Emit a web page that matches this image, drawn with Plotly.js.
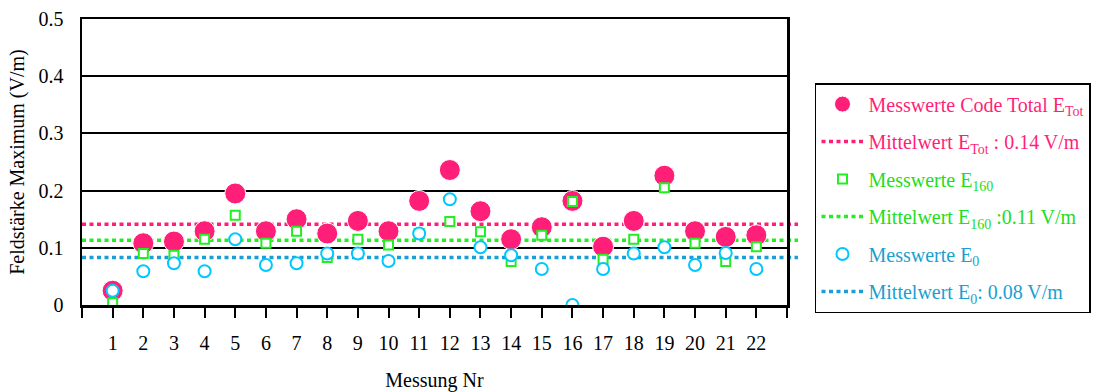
<!DOCTYPE html>
<html>
<head>
<meta charset="utf-8">
<script src="https://cdn.plot.ly/plotly-3.0.1.min.js"></script>
<style>html,body{margin:0;padding:0;background:#fff;}#chart{width:1101px;height:392px;}</style>
</head>
<body>
<div id="chart"></div>
<script>
// ---- data ----
const categories = [1,2,3,4,5,6,7,8,9,10,11,12,13,14,15,16,17,18,19,20,21,22];
const eTot = [0.025,0.108,0.111,0.129,0.195,0.129,0.150,0.125,0.147,0.129,0.182,0.236,0.164,0.115,0.136,0.182,0.102,0.147,0.226,0.129,0.119,0.122];
const e160 = [0.004,0.090,0.087,0.115,0.157,0.108,0.129,0.083,0.115,0.105,0.125,0.146,0.128,0.076,0.122,0.181,0.080,0.115,0.205,0.108,0.076,0.102];
const e0   = [0.025,0.059,0.073,0.059,0.115,0.070,0.073,0.090,0.090,0.077,0.125,0.185,0.101,0.087,0.063,0.000,0.063,0.090,0.101,0.070,0.091,0.063];
const meanTot = 0.141;
const mean160 = 0.113;
const mean0 = 0.083;
const xTickVals = [0,1,2,3,4,5,6,7,8,9,10,11,12,13,14,15,16,17,18,19,20,21,22,23];
const xTickText = [' ','1','2','3','4','5','6','7','8','9','10','11','12','13','14','15','16','17','18','19','20','21','22',' '];
const yTickVals = [0,0.1,0.2,0.3,0.4,0.5];
const yTickText = ['0','0.1','0.2','0.3','0.4','0.5'];

const PINK = '#ff1f78', GREEN = '#22ee22', GREEN_T = '#22dd22', CYAN = '#00c8ff', BLUE = '#1a9fd5', BLUE_T = '#1a9fd0';
const FONT = 'Times New Roman, Liberation Serif, serif';
const FS = 20;

function lbl(txt, col){ return '<span style="color:' + col + '">' + txt + '</span>'; }

const traces = [
  {x: categories, y: eTot, type: 'scatter', mode: 'markers', legendrank: 1, legendgroup: 'a',
   name: lbl('Messwerte Code Total E<sub>Tot</sub>', PINK),
   marker: {symbol: 'circle', size: 21, color: PINK, line: {color: '#ffffff', width: 1}}},
  {x: categories, y: e160, type: 'scatter', mode: 'markers', legendrank: 3, legendgroup: 'c',
   name: lbl('Messwerte E<sub>160</sub>', GREEN_T),
   marker: {symbol: 'square', size: 9, color: '#ffffff', line: {color: GREEN, width: 2}}},
  {x: categories, y: e0, type: 'scatter', mode: 'markers', legendrank: 5, legendgroup: 'e',
   name: lbl('Messwerte E<sub>0</sub>', BLUE_T),
   marker: {symbol: 'circle', size: 12, color: '#ffffff', line: {color: CYAN, width: 2}}},
  {x: [null], y: [null], type: 'scatter', mode: 'lines', legendrank: 2, legendgroup: 'b',
   name: lbl('Mittelwert E<sub>Tot</sub> : ' + meanTot.toFixed(2) + ' V/m', PINK),
   line: {color: PINK, width: 3.5, dash: '4px,3.5px'}},
  {x: [null], y: [null], type: 'scatter', mode: 'lines', legendrank: 4, legendgroup: 'd',
   name: lbl('Mittelwert E<sub>160</sub> :' + mean160.toFixed(2) + ' V/m', GREEN_T),
   line: {color: GREEN, width: 3.5, dash: '4px,3.5px'}},
  {x: [null], y: [null], type: 'scatter', mode: 'lines', legendrank: 6, legendgroup: 'f',
   name: lbl('Mittelwert E<sub>0</sub>: ' + mean0.toFixed(2) + ' V/m', BLUE_T),
   line: {color: BLUE, width: 3.5, dash: '4px,3.5px'}}
];

function meanShape(v, col){
  return {type: 'line', xref: 'paper', yref: 'y', x0: 0, x1: 1.0156, y0: v, y1: v, layer: 'below',
          line: {color: col, width: 3.5, dash: '4px,3.5px'}};
}

const layout = {
  width: 1101, height: 392,
  margin: {l: 82, r: 314, t: 19, b: 87, autoexpand: false},
  paper_bgcolor: '#ffffff', plot_bgcolor: '#ffffff',
  font: {family: FONT, size: FS, color: '#000000'},
  showlegend: true,
  xaxis: {
    range: [0, 23], tickmode: 'array', tickvals: xTickVals, ticktext: xTickText,
    ticks: 'outside', ticklen: 10, tickwidth: 2, tickcolor: '#000',
    showline: true, linecolor: '#000', linewidth: 2.5, mirror: true,
    showgrid: false, zeroline: false, layer: 'below traces',
    ticklabelstandoff: 8, automargin: false,
    tickfont: {family: FONT, size: FS, color: '#000'},
    title: {text: 'Messung Nr', font: {family: FONT, size: FS, color: '#000'}, standoff: 21}
  },
  yaxis: {
    range: [0, 0.5], tickmode: 'array', tickvals: yTickVals, ticktext: yTickText,
    ticks: '', showline: true, linecolor: '#000', linewidth: 2.5, mirror: true,
    showgrid: true, gridcolor: '#000', gridwidth: 2, zeroline: false, layer: 'below traces',
    ticklabelstandoff: 12, automargin: false,
    tickfont: {family: FONT, size: FS, color: '#000'},
    title: {text: 'Feldstärke Maximum (V/m)', font: {family: FONT, size: FS, color: '#000'}, standoff: 9}
  },
  legend: {
    x: 1.0397, xanchor: 'left', y: 0.776, yanchor: 'top',
    bgcolor: '#ffffff', bordercolor: '#000', borderwidth: 1.5,
    traceorder: 'grouped', tracegroupgap: 8.5, itemwidth: 42,
    font: {family: FONT, size: FS, color: '#000'}
  },
  shapes: [meanShape(meanTot, PINK), meanShape(mean160, GREEN), meanShape(mean0, BLUE)]
};

Plotly.newPlot('chart', traces, layout, {displayModeBar: false, staticPlot: true});
</script>
</body>
</html>
